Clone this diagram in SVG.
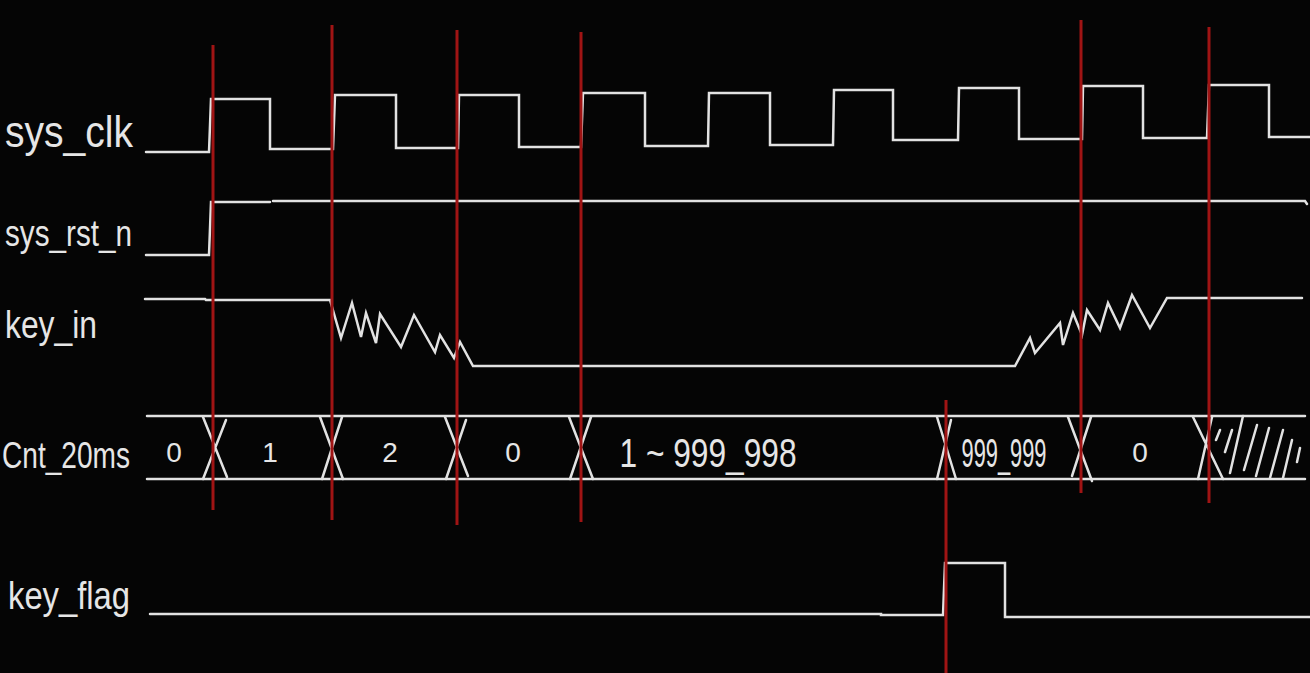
<svg xmlns="http://www.w3.org/2000/svg" width="1310" height="673" viewBox="0 0 1310 673">
<style>
.bg{fill:#050505}
.sig{fill:none;stroke:#e2e2e2;stroke-width:2.5;stroke-linejoin:miter;stroke-linecap:round}
.mark{stroke:#a01414;stroke-width:3;fill:none}
.lbl{font-family:"Liberation Sans","DejaVu Sans",sans-serif;fill:#e6e6e6}
.val{font-family:"Liberation Sans","DejaVu Sans",sans-serif;fill:#e6e6e6;text-anchor:middle}
</style>
<rect class="bg" x="0" y="0" width="1310" height="673"/>

<g id="labels">
<text class="lbl" x="5" y="147" style="font-size:44px" textLength="128" lengthAdjust="spacingAndGlyphs">sys_clk</text>
<text class="lbl" x="5" y="246" style="font-size:36px" textLength="127" lengthAdjust="spacingAndGlyphs">sys_rst_n</text>
<text class="lbl" x="5" y="338" style="font-size:38px" textLength="92" lengthAdjust="spacingAndGlyphs">key_in</text>
<text class="lbl" x="2" y="468" style="font-size:36px" textLength="128" lengthAdjust="spacingAndGlyphs">Cnt_20ms</text>
<text class="lbl" x="8" y="609" style="font-size:38px" textLength="122" lengthAdjust="spacingAndGlyphs">key_flag</text>
</g>

<g id="sys_clk">
<path class="sig" d="M146,152 L209,152 L211,99 L270,99 L270,149 L333,149 L335,95 L396,95 L396,148 L458,148 L459,95 L519,95 L519,147 L581,147 L583,93 L645,93 L645,146 L708,146 L709,93 L770,93 L770,145 L833,145 L834,90 L893,90 L893,140 L958,140 L959,88 L1019,88 L1019,139 L1082,139 L1083,86 L1143,86 L1143,138 L1207,138 L1209,85 L1269,85 L1269,137 L1310,137"/>
</g>

<g id="sys_rst_n">
<path class="sig" d="M146,255 L209,255 L211,202 L270,202"/>
<path class="sig" d="M273,201 L1305,201 L1307,204"/>
</g>

<g id="key_in">
<path class="sig" d="M145,299 L205,299 L206,300 L330,300 L341,338 L352,303 L361,337 L366,313 L376,343 L380,314 L401,347 L414,315 L435,352 L440,335 L454,358 L460,342 L473,366 L755,366 L1015,366 L1030,338 L1035,353 L1060,323 L1063,345 L1073,313 L1082,335 L1087,310 L1100,330 L1108,303 L1120,328 L1132,295 L1150,328 L1167,298 L1302,298"/>
</g>

<g id="cnt_20ms">
<path class="sig" d="M147,416 L1305,416 M147,479 L1305,479"/>
<path class="sig" d="M203,417 L227,477 M226,420 L203,479"/>
<path class="sig" d="M320,417 L343,479 M342,417 L322,479"/>
<path class="sig" d="M445,417 L468,476 M466,420 L446,479"/>
<path class="sig" d="M569,417 L593,479 M591,417 L570,479"/>
<path class="sig" d="M937,417 L956,479 M951,420 L937,479"/>
<path class="sig" d="M1068,417 L1092,481 M1091,417 L1072,476"/>
<path class="sig" d="M1193,417 L1223,479 M1212,417 L1198,479"/>
<path class="sig" d="M1216,440 L1220,430 M1225,452 L1232,430 M1230,473 L1243,416 M1244,470 L1257,425 M1256,476 L1269,428 M1270,478 L1283,430 M1283,478 L1292,440 M1297,462 L1300,448"/>
<text class="val" x="174" y="462" style="font-size:28px">0</text>
<text class="val" x="270" y="462" style="font-size:28px">1</text>
<text class="val" x="390" y="462" style="font-size:28px">2</text>
<text class="val" x="513" y="462" style="font-size:28px">0</text>
<text class="val" x="708" y="467" style="font-size:40px" textLength="177" lengthAdjust="spacingAndGlyphs">1 ~ 999_998</text>
<text class="val" x="1004" y="467" style="font-size:40px" textLength="85" lengthAdjust="spacingAndGlyphs">999_999</text>
<text class="val" x="1140" y="462" style="font-size:28px">0</text>
</g>

<g id="key_flag">
<path class="sig" d="M150,614 L881,614 L881,615 L943,615 L945,563 L1005,563 L1005,617 L1310,617"/>
</g>

<g id="markers">
<line class="mark" x1="213" y1="45" x2="213" y2="510"/>
<line class="mark" x1="332" y1="25" x2="332" y2="520"/>
<line class="mark" x1="457" y1="30" x2="457" y2="525"/>
<line class="mark" x1="581" y1="32" x2="581" y2="522"/>
<line class="mark" x1="946" y1="400" x2="946" y2="673"/>
<line class="mark" x1="1081" y1="20" x2="1081" y2="493"/>
<line class="mark" x1="1209" y1="27" x2="1209" y2="503"/>
</g>
</svg>
